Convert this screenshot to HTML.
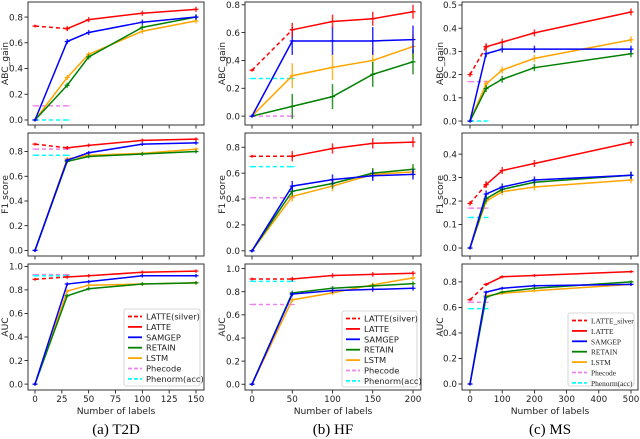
<!DOCTYPE html>
<html><head><meta charset="utf-8">
<style>
html,body{margin:0;padding:0;background:#fff;}
svg{display:block;font-family:"DejaVu Sans","Liberation Sans",sans-serif;}
</style></head>
<body>
<svg id="chart" width="640" height="439" viewBox="0 0 640 439" xmlns="http://www.w3.org/2000/svg"></svg>
<script>
// ---- data ----
const xT2D = [0,30,50,100,150];
const xHF = [0,50,100,150,200];
const xMS = [0,50,100,200,500];

const t2dAbcSilver=[0.73,0.71], t2dAbcLatte=[0.71,0.78,0.83,0.86], t2dAbcSamgep=[0,0.61,0.68,0.76,0.80], t2dAbcRetain=[0,0.27,0.49,0.72,0.80], t2dAbcLstm=[0,0.33,0.51,0.69,0.77], t2dAbcPhecode=0.11, t2dAbcPhenorm=0.0;
const t2dF1Silver=[0.86,0.83], t2dF1Latte=[0.83,0.85,0.89,0.90], t2dF1Samgep=[0,0.73,0.79,0.86,0.87], t2dF1Retain=[0,0.72,0.76,0.78,0.80], t2dF1Lstm=[0,0.74,0.77,0.785,0.82], t2dF1Phecode=0.82, t2dF1Phenorm=0.77;
const t2dAucSilver=[0.89,0.91], t2dAucLatte=[0.91,0.92,0.95,0.96], t2dAucSamgep=[0,0.85,0.87,0.92,0.92], t2dAucRetain=[0,0.75,0.81,0.85,0.86], t2dAucLstm=[0,0.79,0.84,0.85,0.86], t2dAucPhecode=0.93, t2dAucPhenorm=0.92;

const hfAbcSilver=[0.33,0.62], hfAbcLatte=[0.62,0.68,0.70,0.75], hfAbcSamgep=[0,0.54,0.54,0.54,0.55], hfAbcRetain=[0,0.07,0.14,0.30,0.39], hfAbcLstm=[0,0.29,0.35,0.40,0.50], hfAbcPhecode=0.0, hfAbcPhenorm=0.27;
const hfF1Silver=[0.73,0.73], hfF1Latte=[0.73,0.79,0.83,0.84], hfF1Samgep=[0,0.50,0.55,0.58,0.59], hfF1Retain=[0,0.46,0.52,0.60,0.63], hfF1Lstm=[0,0.42,0.50,0.59,0.61], hfF1Phecode=0.41, hfF1Phenorm=0.65;
const hfAucSilver=[0.91,0.91], hfAucLatte=[0.91,0.94,0.95,0.96], hfAucSamgep=[0,0.78,0.81,0.82,0.83], hfAucRetain=[0,0.79,0.83,0.85,0.87], hfAucLstm=[0,0.73,0.79,0.86,0.92], hfAucPhecode=0.69, hfAucPhenorm=0.89;

const msAbcSilver=[0.20,0.32], msAbcLatte=[0.32,0.34,0.38,0.47], msAbcSamgep=[0,0.29,0.31,0.31,0.31], msAbcRetain=[0,0.14,0.18,0.23,0.29], msAbcLstm=[0,0.16,0.22,0.27,0.35], msAbcPhecode=0.17, msAbcPhenorm=0.0;
const msF1Silver=[0.19,0.27], msF1Latte=[0.27,0.33,0.36,0.45], msF1Samgep=[0,0.23,0.26,0.29,0.31], msF1Retain=[0,0.21,0.25,0.28,0.31], msF1Lstm=[0,0.20,0.24,0.26,0.29], msF1Phecode=0.17, msF1Phenorm=0.13;
const msAucSilver=[0.66,0.78], msAucLatte=[0.78,0.84,0.85,0.88], msAucSamgep=[0,0.72,0.75,0.77,0.78], msAucRetain=[0,0.68,0.72,0.75,0.80], msAucLstm=[0,0.69,0.71,0.73,0.78], msAucPhecode=0.64, msAucPhenorm=0.59;

const hfAbcErr=[0.05,0.1,0.09,0.09];

const t2dXTicks=[0,25,50,75,100,125,150];
const hfXTicks=[0,50,100,150,200];
const msXTicks=[0,100,200,300,400,500];
const yTicks8=[0,0.2,0.4,0.6,0.8];
const yTicks10=[0,0.2,0.4,0.6,0.8,1.0];
const yTicks5=[0,0.1,0.2,0.3,0.4,0.5];
const yTicks4=[0,0.1,0.2,0.3,0.4];
const legendLabelsA=["LATTE(silver)","LATTE","SAMGEP","RETAIN","LSTM","Phecode","Phenorm(acc)"];
const legendLabelsC=["LATTE_silver","LATTE","SAMGEP","RETAIN","LSTM","Phecode","Phenorm(acc)"];

// ---- layout ----
const NS="http://www.w3.org/2000/svg";
const svg=document.getElementById('chart');
const COL={red:'#ff0000',blue:'#0000ff',green:'#008000',orange:'#ffa500',pink:'#ee82ee',cyan:'#00ffff'};
function mk(tag,attrs,parent){const e=document.createElementNS(NS,tag);for(const k in attrs)e.setAttribute(k,attrs[k]);(parent||svg).appendChild(e);return e;}

const cols=[
 {name:'t2d',box:[28,204],xd:[0,150],xp:[35,196],x:xT2D,xt:t2dXTicks,ylx:8,cap:'(a)  T2D',capx:116},
 {name:'hf',box:[245,421],xd:[0,200],xp:[252,413],x:xHF,xt:hfXTicks,ylx:225,cap:'(b)  HF',capx:333},
 {name:'ms',box:[462,638],xd:[0,500],xp:[470,631],x:xMS,xt:msXTicks,ylx:443,cap:'(c)  MS',capx:550}
];
const rows=[[2,125],[133,256],[264,390]];
const rowLabels=['ABC_gain','F1 score','AUC'];

const panels=[
 [ {d:[-0.039,0.917],t:yTicks8,s:[t2dAbcSilver,t2dAbcLatte,t2dAbcSamgep,t2dAbcRetain,t2dAbcLstm,t2dAbcPhecode,t2dAbcPhenorm],e:0.02},
   {d:[-0.045,0.95],t:yTicks8,s:[t2dF1Silver,t2dF1Latte,t2dF1Samgep,t2dF1Retain,t2dF1Lstm,t2dF1Phecode,t2dF1Phenorm],e:0.015},
   {d:[-0.05,1.02],t:yTicks10,s:[t2dAucSilver,t2dAucLatte,t2dAucSamgep,t2dAucRetain,t2dAucLstm,t2dAucPhecode,t2dAucPhenorm],e:0.015} ],
 [ {d:[-0.064,0.82],t:yTicks8,s:[hfAbcSilver,hfAbcLatte,hfAbcSamgep,hfAbcRetain,hfAbcLstm,hfAbcPhecode,hfAbcPhenorm],e:hfAbcErr},
   {d:[-0.04,0.91],t:yTicks8,s:[hfF1Silver,hfF1Latte,hfF1Samgep,hfF1Retain,hfF1Lstm,hfF1Phecode,hfF1Phenorm],e:0.04},
   {d:[-0.05,1.04],t:yTicks10,s:[hfAucSilver,hfAucLatte,hfAucSamgep,hfAucRetain,hfAucLstm,hfAucPhecode,hfAucPhenorm],e:0.02} ],
 [ {d:[-0.017,0.513],t:yTicks5,s:[msAbcSilver,msAbcLatte,msAbcSamgep,msAbcRetain,msAbcLstm,msAbcPhecode,msAbcPhenorm],e:0.015},
   {d:[-0.034,0.49],t:yTicks4,s:[msF1Silver,msF1Latte,msF1Samgep,msF1Retain,msF1Lstm,msF1Phecode,msF1Phenorm],e:0.015},
   {d:[-0.047,0.94],t:yTicks8,s:[msAucSilver,msAucLatte,msAucSamgep,msAucRetain,msAucLstm,msAucPhecode,msAucPhenorm],e:0.01} ]
];

function fmt(v){return v.toFixed(1);}

cols.forEach((c,ci)=>{
 const sx=v=>c.xp[0]+(v-c.xd[0])/(c.xd[1]-c.xd[0])*(c.xp[1]-c.xp[0]);
 rows.forEach((r,ri)=>{
  const p=panels[ci][ri];
  const sy=v=>r[1]-(v-p.d[0])/(p.d[1]-p.d[0])*(r[1]-r[0]);
  const g=mk('g',{});
  
  
  p.t.forEach(t=>{const y=sy(t);
   mk('line',{x1:c.box[0]-3.5,x2:c.box[0],y1:y,y2:y,stroke:'#000','stroke-width':0.8},g);
   const tx=mk('text',{x:c.box[0]-5,y:y+3.2,'font-size':8.8,'text-anchor':'end',fill:'#222'},g);tx.textContent=fmt(t);
   });
  c.xt.forEach(t=>{const x=sx(t);
   mk('line',{x1:x,x2:x,y1:r[1],y2:r[1]+3.5,stroke:'#000','stroke-width':0.8},g);
   if(ri===2){const tx=mk('text',{x:x,y:r[1]+12,'font-size':8.8,'text-anchor':'middle',fill:'#222'},g);tx.textContent=t;
    }});
  const yl=mk('text',{x:0,y:0,'font-size':9.2,'text-anchor':'middle',fill:'#222',transform:`translate(${c.ylx},${(r[0]+r[1])/2}) rotate(-90)`},g);
  yl.textContent=rowLabels[ri];
  const X=c.x;const x2=[X[0],X[1]];const x4=X.slice(1);
  const defs=[
   {arr:p.s[0],xs:x2,col:COL.red,dash:'4,3',name:'latte-silver-line',err:0.01},
   {arr:p.s[1],xs:x4,col:COL.red,name:'latte-line',ei:0},
   {arr:p.s[2],xs:X,col:COL.blue,name:'samgep-line',ei:1},
   {arr:p.s[3],xs:X,col:COL.green,name:'retain-line',ei:2},
   {arr:p.s[4],xs:X,col:COL.orange,name:'lstm-line',ei:3},
   {arr:[p.s[5],p.s[5]],xs:x2,col:COL.pink,dash:'4,3',name:'phecode-line',err:0},
   {arr:[p.s[6],p.s[6]],xs:x2,col:COL.cyan,dash:'4,3',name:'phenorm-line',err:0}
  ];
  const order=[5,6,4,3,2,0,1];
  order.forEach(k=>{const s=defs[k];
   const pts=s.arr.map((v,i)=>[sx(s.xs[i]),sy(v)]);
   const pl=mk('polyline',{points:pts.map(q=>q.join(',')).join(' '),fill:'none',stroke:s.col,'stroke-width':1.5},g);
   if(s.dash)pl.setAttribute('stroke-dasharray',s.dash);
   
   let e=s.err!==undefined?s.err:(Array.isArray(p.e)?p.e[s.ei]:p.e);
   pts.forEach((q,i)=>{
    const isZero=s.arr[i]===0&&s.xs[i]===0;
    const ee=isZero?0.005:e;
    const eh=Math.max(ee/(p.d[1]-p.d[0])*(r[1]-r[0]),1.5);
    if(s.err!==0){const eb=mk('line',{x1:q[0],x2:q[0],y1:q[1]-eh,y2:q[1]+eh,stroke:s.col,'stroke-width':1.5,opacity:0.8},g);
     }
    mk('line',{x1:q[0]-2.5,x2:q[0]+2.5,y1:q[1],y2:q[1],stroke:s.col,'stroke-width':1.2},g);
   });
  });
  const fr=mk('rect',{x:c.box[0],y:r[0],width:c.box[1]-c.box[0],height:r[1]-r[0],fill:'none',stroke:'#333','stroke-width':1},g);
  
 });
 const xl=mk('text',{x:(c.box[0]+c.box[1])/2,y:414,'font-size':9.2,'text-anchor':'middle',fill:'#222'});
 xl.textContent='Number of labels';
 const cp=mk('text',{x:c.capx,y:434,'font-size':15,'text-anchor':'middle',fill:'#000','font-family':'"Liberation Serif",serif'});
 cp.textContent=c.cap;
});

const legBoxes=[[124,309,76,77,legendLabelsA,false],[342,311,75,76,legendLabelsA,false],[568,313,66,73,legendLabelsC,true]];
const legCols=[COL.red,COL.red,COL.blue,COL.green,COL.orange,COL.pink,COL.cyan];
const legDash=[true,false,false,false,false,true,true];
legBoxes.forEach((b,bi)=>{
 const g=mk('g',{});
 
 
 mk('rect',{x:b[0],y:b[1],width:b[2],height:b[3],rx:2,fill:'#fff','fill-opacity':0.85,stroke:'#ccc','stroke-width':0.8},g);
 b[4].forEach((lab,i)=>{
  const y=b[1]+7.5+i*10.4;
  const ln=mk('line',{x1:b[0]+4,x2:b[0]+(b[5]?19:18),y1:y,y2:y,stroke:legCols[i],'stroke-width':1.8},g);
  if(legDash[i])ln.setAttribute('stroke-dasharray','4,2');
  const t=mk('text',{x:b[0]+(b[5]?23:22),y:y+3,'font-size':b[5]?7.4:8.3,fill:'#222'},g);
  if(b[5])t.setAttribute('font-family','"Liberation Serif",serif');
  t.textContent=lab;
  
  
 });
});
</script>
</body></html>
